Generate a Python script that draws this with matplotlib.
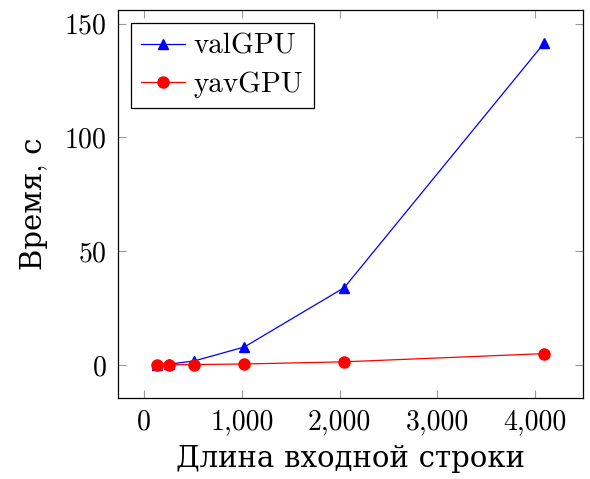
import matplotlib.pyplot as plt
from matplotlib.ticker import FuncFormatter

plt.rcParams['font.family'] = ['cmr10', 'DejaVu Serif']
plt.rcParams['mathtext.fontset'] = 'cm'
plt.rcParams['axes.formatter.use_mathtext'] = True

lengths = [128, 256, 512, 1024, 2048, 4096]
val_gpu = [0.1, 0.4, 1.8, 7.9, 34.0, 141.5]
yav_gpu = [0.05, 0.1, 0.2, 0.45, 1.4, 5.0]

fig = plt.figure(figsize=(5.9, 4.79), dpi=100)
ax = fig.add_axes([118 / 590, 1 - 398 / 479, 465 / 590, 388 / 479])

ax.plot(lengths, val_gpu, color='blue', lw=0.9, marker='^', ms=7, label='valGPU')
ax.plot(lengths, yav_gpu, color='red', lw=0.9, marker='o', ms=8, label='yavGPU')

ax.set_xlim(-269, 4493)
ax.set_ylim(-14.5, 156)
ax.set_xticks([0, 1000, 2000, 3000, 4000])
ax.set_yticks([0, 50, 100, 150])
ax.xaxis.set_major_formatter(FuncFormatter(lambda v, p: f'{int(v):,}'))

ax.tick_params(direction='in', top=True, right=True, length=6, width=0.8,
               color='#999999', labelsize=20, pad=8)
for s in ax.spines.values():
    s.set_linewidth(0.9)

ax.set_xlabel('Длина входной строки', fontsize=21, labelpad=7)
ax.set_ylabel('Время, с', fontsize=21, labelpad=12)

leg = ax.legend(loc='upper left', fontsize=21, fancybox=False, framealpha=1,
                edgecolor='black', handlelength=1.5, borderpad=0.35,
                labelspacing=0.4, handletextpad=0.3, borderaxespad=0.45)
leg.get_frame().set_linewidth(0.9)

fig.savefig('out.png', dpi=100)
